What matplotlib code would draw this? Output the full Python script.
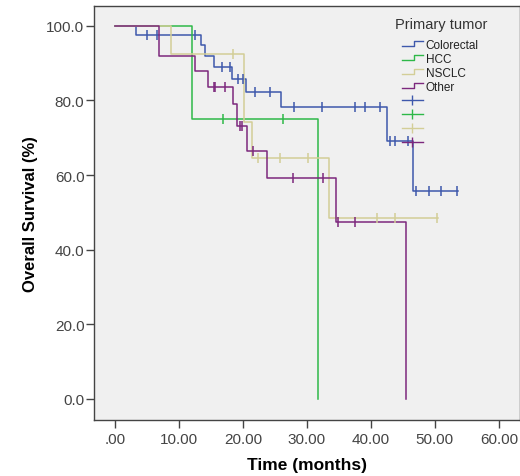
import numpy as np
import matplotlib
matplotlib.use("Agg")
import matplotlib.pyplot as plt
from matplotlib.lines import Line2D
from matplotlib.legend_handler import HandlerLine2D

plt.rcParams['font.family'] = ['Liberation Sans', 'DejaVu Sans']

# ---- data ----
groups = ["Colorectal", "HCC", "NSCLC", "Other"]
colors = ["#3E58AC", "#2EB848", "#D3CE97", "#7C287D"]
legend_title = "Primary tumor"

colorectal_t = [0, 3.3, 13.5, 14.1, 15.4, 18.3, 20.5, 26.0, 42.5, 46.5, 53.6]
colorectal_s = [100, 97.4, 94.7, 92.0, 88.9, 85.8, 82.2, 78.2, 69.2, 55.6, 55.6]
colorectal_cens = [4.95, 6.5, 12.5, 16.7, 18.0, 19.3, 20.0, 21.9, 24.2, 27.9, 32.3,
                   37.5, 39.1, 41.4, 43.0, 43.75, 45.8, 47.1, 49.0, 51.0, 53.4]

hcc_t = [0, 12.0, 31.7]
hcc_s = [100, 75.0, 0.0]
hcc_cens = [16.9, 26.3]

nsclc_t = [0, 8.75, 20.1, 21.4, 33.5, 50.5]
nsclc_s = [100, 92.3, 74.1, 64.5, 48.4, 48.4]
nsclc_cens = [18.5, 22.4, 25.8, 30.2, 40.9, 43.75, 50.4]

other_t = [0, 6.8, 12.5, 14.6, 18.5, 19.0, 20.6, 23.7, 34.6, 45.5]
other_s = [100, 92.0, 87.8, 83.6, 79.0, 73.2, 66.5, 59.1, 47.3, 0.0]
other_cens = [15.4, 15.6, 17.2, 19.5, 19.8, 21.6, 27.8, 32.5, 34.9, 37.5]

series = [
    (colorectal_t, colorectal_s, colorectal_cens),
    (hcc_t, hcc_s, hcc_cens),
    (nsclc_t, nsclc_s, nsclc_cens),
    (other_t, other_s, other_cens),
]

x_ticks = [0, 10, 20, 30, 40, 50, 60]
x_ticklabels = [".00", "10.00", "20.00", "30.00", "40.00", "50.00", "60.00"]
y_ticks = [0, 20, 40, 60, 80, 100]
y_ticklabels = ["0.0", "20.0", "40.0", "60.0", "80.0", "100.0"]


def surv_at(times, surv, t):
    idx = np.searchsorted(np.asarray(times), t, side="right") - 1
    return np.asarray(surv)[idx]


fig = plt.figure(figsize=(5.2, 4.77), dpi=100)
ax = fig.add_axes([93.5 / 520, 1 - 421 / 477, (520 - 93.5) / 520, (421 - 7.3) / 477])
ax.set_facecolor("#F0F0F0")

lw = 1.1
for (t, s, c), col in zip(series, colors):
    ax.step(t, s, where="post", color=col, lw=lw, zorder=3)
    cs = surv_at(t, s, np.asarray(c))
    ax.plot(c, cs, linestyle="none", marker="|", markersize=6.5, markeredgewidth=1.1,
            color=col, zorder=4)

ax.set_xlim(-3.36, 63.3)
ax.set_ylim(-5.63, 105.2)
ax.set_xticks(x_ticks)
ax.set_xticklabels(x_ticklabels)
ax.set_yticks(y_ticks)
ax.set_yticklabels(y_ticklabels)
ax.tick_params(axis="both", direction="out", length=6, width=1.0, color="#444444",
               labelsize=11, labelcolor="#444444")
ax.tick_params(axis="y", pad=0.5)
ax.tick_params(axis="x", pad=2.5)
for sp in ax.spines.values():
    sp.set_color("#444444")
    sp.set_linewidth(1.0)

ax.set_xlabel("Time (months)", fontsize=12.5, fontweight="bold", labelpad=8)
ax.set_ylabel("Overall Survival (%)", fontsize=12, fontweight="bold", labelpad=6)


class HandlerStep(HandlerLine2D):
    def create_artists(self, legend, orig_handle, xdescent, ydescent, width, height,
                       fontsize, trans):
        x0 = -xdescent
        x1 = x0 + width
        xm = x0 + 0.55 * width
        ylo = -ydescent + 0.2 * height
        yhi = -ydescent + 0.85 * height
        line = Line2D([x0, xm, xm, x1], [ylo, ylo, yhi, yhi])
        self.update_prop(line, orig_handle, legend)
        line.set_transform(trans)
        return [line]


step_handles = [Line2D([], [], color=c, lw=1.0) for c in colors]
cens_handles = [Line2D([], [], color=c, lw=1.0, marker="|", markersize=7,
                       markeredgewidth=1.0) for c in colors]
handles = step_handles + cens_handles
labels = groups + [" "] * 4
hmap = {h: HandlerStep() for h in step_handles}
hmap.update({h: HandlerLine2D(numpoints=1) for h in cens_handles})
leg = ax.legend(handles, labels, handler_map=hmap, loc="upper left",
                bbox_to_anchor=(401.5 / 520, 1 - 40 / 477), bbox_transform=fig.transFigure,
                frameon=False, fontsize=8.5, borderpad=0, borderaxespad=0,
                handlelength=1.85, handletextpad=0.2, labelspacing=0.17,
                handleheight=0.7)
for txt in leg.get_texts():
    txt.set_color("#222222")

fig.text(395 / 520, 1 - 25 / 477, legend_title, fontsize=10.5, color="#333333",
         ha="left", va="center")

fig.savefig("out.png", dpi=100, facecolor="white")
